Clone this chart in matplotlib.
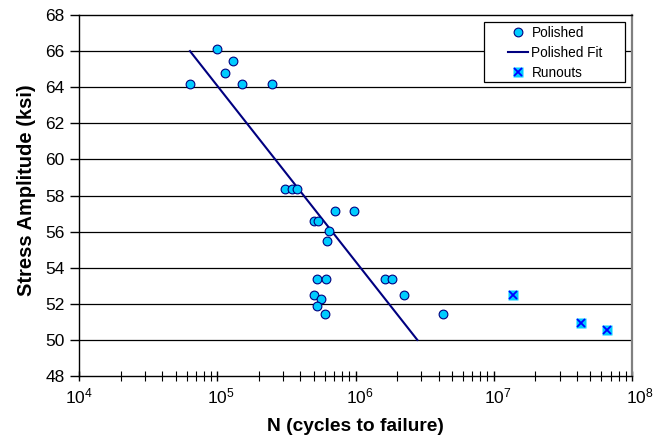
import matplotlib
matplotlib.use("Agg")
import matplotlib.pyplot as plt
import matplotlib.transforms as mtransforms
from matplotlib.ticker import LogLocator, FixedLocator, NullFormatter
from matplotlib.legend_handler import HandlerTuple
from matplotlib.patches import Rectangle
import numpy as np

plt.rcParams['font.family'] = ['Liberation Sans', 'DejaVu Sans']
plt.rcParams['mathtext.fontset'] = 'custom'
plt.rcParams['mathtext.rm'] = 'Liberation Sans'

# polished specimens: cycles to failure and stress amplitude (ksi)
polished_n = [6.3e4, 1.0e5, 1.14e5, 1.29e5, 1.5e5, 2.49e5,
              3.08e5, 3.49e5, 3.76e5, 7.1e5, 9.75e5,
              4.98e5, 5.35e5, 6.4e5, 6.2e5,
              5.27e5, 6.15e5, 1.63e6, 1.84e6,
              5.0e5, 5.63e5, 5.24e5, 6.05e5, 2.23e6, 4.31e6]
polished_s = [64.15, 66.1, 64.8, 65.45, 64.15, 64.15,
              58.35, 58.35, 58.35, 57.15, 57.15,
              56.57, 56.57, 56.02, 55.46,
              53.35, 53.35, 53.35, 53.35,
              52.5, 52.29, 51.9, 51.45, 52.5, 51.45]

# fit line end points
fit_n = [6.35e4, 2.8e6]
fit_s = [66.0, 50.0]

# runouts
runout_n = [1.37e7, 4.28e7, 6.56e7]
runout_s = [52.5, 50.95, 50.56]

x_ticks = [1e4, 1e5, 1e6, 1e7, 1e8]
x_ticklabels = [r'$\mathregular{10^{4}}$', r'$\mathregular{10^{5}}$',
                r'$\mathregular{10^{6}}$', r'$\mathregular{10^{7}}$',
                r'$\mathregular{10^{8}}$']

cyan = '#00CCFF'
navy = '#000080'
W, H = 670, 444

fig = plt.figure(figsize=(6.7, 4.44), dpi=100)
ax = fig.add_axes([79/W, 1 - 376/H, (632 - 79)/W, (376 - 15)/H])

ax.set_xscale('log')
ax.set_xlim(1e4, 1e8)
ax.set_ylim(48, 68)

for y in range(50, 68, 2):
    ax.axhline(y, color='black', lw=0.9, zorder=1)

ax.plot(fit_n, fit_s, color=navy, lw=1.5, zorder=3)
pol, = ax.plot(polished_n, polished_s, 'o', ms=6.3, mfc=cyan, mec=navy,
               mew=0.8, ls='none', zorder=4)
fitline, = ax.plot([], [], color=navy, lw=1.5)
sq, = ax.plot(runout_n, runout_s, 's', ms=6.5, mfc=cyan, mec='none',
              ls='none', zorder=4)
xx, = ax.plot(runout_n, runout_s, 'x', ms=5.8, mec='#0000FF', mew=1.3,
              ls='none', zorder=5)

ax.yaxis.set_major_locator(FixedLocator(np.arange(48, 69, 2)))
ax.xaxis.set_minor_locator(LogLocator(base=10, subs=np.arange(2, 10), numticks=10))
ax.xaxis.set_minor_formatter(NullFormatter())
ax.set_xticks(x_ticks)
ax.set_xticklabels(x_ticklabels)

ax.tick_params(axis='x', which='major', direction='inout', length=7, width=1,
               labelsize=12.5, pad=4)
ax.tick_params(axis='x', which='minor', direction='inout', length=7, width=0.8)
ax.tick_params(axis='y', direction='out', length=6.5, width=1, labelsize=12.5, pad=3.9)

# excel nudges the decade labels slightly to the right
for lab, dx in zip(ax.get_xticklabels(), [0, 4, 4, 4, 8]):
    lab.set_transform(lab.get_transform() +
                      mtransforms.ScaledTranslation(dx / 100, 0, fig.dpi_scale_trans))

for side in ['left', 'bottom', 'top']:
    ax.spines[side].set_color('black')
    ax.spines[side].set_linewidth(1)
ax.spines['right'].set_color('#808080')
ax.spines['right'].set_linewidth(1.6)

ax.set_xlabel('N (cycles to failure)', fontsize=13.8, fontweight='bold')
ax.xaxis.set_label_coords(0.5, -0.117)
ax.set_ylabel('Stress Amplitude (ksi)', fontsize=14.5, fontweight='bold')
ax.yaxis.set_label_coords(-0.078, 0.515)

# legend box
frame = Rectangle((484/W, 1 - 82.3/H), 141.3/W, 60.6/H, transform=fig.transFigure,
                  facecolor='white', edgecolor='black', lw=0.9, zorder=6,
                  clip_on=False)
ax.add_patch(frame)

leg = ax.legend([pol, fitline, (sq, xx)], ['Polished', 'Polished Fit', 'Runouts'],
                handler_map={tuple: HandlerTuple(ndivide=1, pad=0)},
                loc='upper left', bbox_to_anchor=(508/W, 1 - 26/H),
                bbox_transform=fig.transFigure, fontsize=9.8,
                frameon=False, borderpad=0, borderaxespad=0,
                handlelength=1.47, handletextpad=0.25, labelspacing=0.45)
leg.set_zorder(7)

fig.savefig('out.png', dpi=100)
